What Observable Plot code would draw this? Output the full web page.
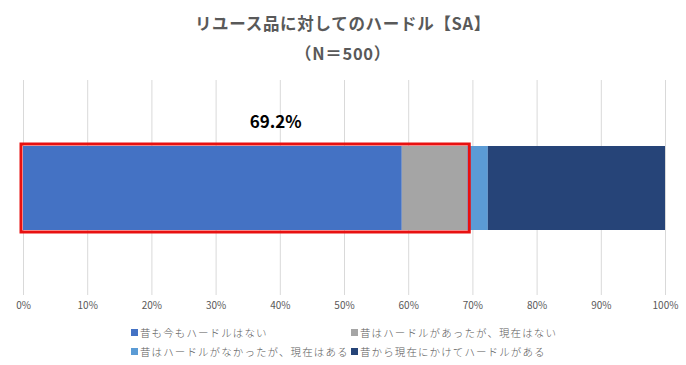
<!DOCTYPE html>
<html>
<head>
<meta charset="utf-8">
<script src="https://cdn.jsdelivr.net/npm/d3@7"></script>
<script src="https://cdn.jsdelivr.net/npm/@observablehq/plot@0.6"></script>
<style>
  body { margin: 0; background: #fff; width: 686px; font-family: "Noto Sans CJK JP", "Noto Sans", sans-serif; }
  #title { text-align: center; color: #595959; font-weight: bold; padding-top: 8px; height: 62px; }
  #title div { line-height: 30px; font-size: 16.5px; letter-spacing: 0.7px; }
  #chart svg { display: block; }
  #legend { display: grid; grid-template-columns: 220px auto; padding-left: 131px; row-gap: 1px; margin-top: 8px; color: #595959; font-size: 10.5px; letter-spacing: 1.1px; font-weight: 300; }
  #legend span.item { display: flex; align-items: center; height: 18px; white-space: nowrap; }
  #legend i { display: inline-block; width: 7px; height: 7px; margin-right: 2px; }
</style>
</head>
<body>
<div id="title"><div>リユース品に対してのハードル【SA】</div><div>（N＝500）</div></div>
<div id="chart"></div>
<div id="legend"></div>
<script>
const categories = ["全体"];
const seriesNames = ["昔も今もハードルはない", "昔はハードルがあったが、現在はない", "昔はハードルがなかったが、現在はある", "昔から現在にかけてハードルがある"];
const seriesValues = [0.590, 0.102, 0.032, 0.276];
const seriesColors = ["#4472C4", "#A5A5A5", "#5B9BD5", "#264478"];
const xTicks = [0, 0.1, 0.2, 0.3, 0.4, 0.5, 0.6, 0.7, 0.8, 0.9, 1.0];
const highlightSeries = [0, 1];

const data = seriesNames.map((s, i) => ({cat: categories[0], series: s, value: seriesValues[i]}));
const highlightTotal = highlightSeries.reduce((a, i) => a + seriesValues[i], 0);
const highlight = [{cat: categories[0], total: highlightTotal}];

const chart = Plot.plot({
  width: 686,
  height: 245,
  marginLeft: 23,
  marginRight: 21,
  marginTop: 10,
  marginBottom: 20,
  x: {domain: [0, 1]},
  y: {domain: categories, padding: 0.438, axis: null},
  color: {domain: seriesNames, range: seriesColors},
  style: {fontFamily: "'Noto Sans CJK JP', sans-serif"},
  marks: [
    Plot.gridX(xTicks, {stroke: "#d9d9d9", strokeOpacity: 1}),
    Plot.axisX(xTicks, {tickFormat: d3.format(".0%"), tickSize: 0, tickPadding: 6, fontSize: 10, fill: "#595959"}),
    Plot.barX(data, Plot.stackX({x: "value", y: "cat", fill: "series", order: null})),
    Plot.barX(highlight, {x1: 0, x2: "total", y: "cat", fill: "none", stroke: "#e81010", strokeWidth: 3, insetTop: -2, insetBottom: -2, insetLeft: -2, insetRight: -2}),
    Plot.text(highlight, {x: d => d.total / 2, y: "cat", text: d => d3.format(".1%")(d.total), dx: 30, dy: -66, fontSize: 17, fontWeight: "bold", fill: "#000"})
  ]
});
document.getElementById("chart").appendChild(chart);

const legend = document.getElementById("legend");
seriesNames.forEach((s, i) => {
  const span = document.createElement("span");
  span.className = "item";
  span.innerHTML = `<i style="background:${seriesColors[i]}"></i>${s}`;
  legend.appendChild(span);
});
</script>
</body>
</html>
